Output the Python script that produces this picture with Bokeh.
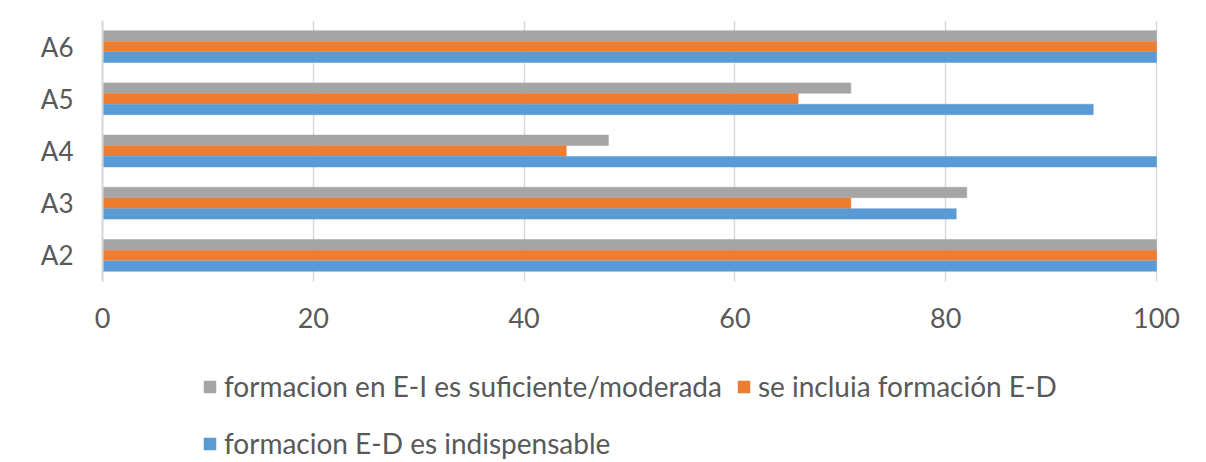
from bokeh.plotting import figure
from bokeh.models import Legend, LegendItem, Range1d, FixedTicker, Grid, ColumnDataSource
from bokeh.transform import dodge
from bokeh.embed import file_html
from bokeh.resources import INLINE

categories = ["A2", "A3", "A4", "A5", "A6"]
suficiente = [100, 82, 48, 71, 100]
incluia = [100, 71, 44, 66, 100]
indispensable = [100, 81, 100, 94, 100]
x_ticks = [0, 20, 40, 60, 80, 100]

labels = ["formacion en E-I es suficiente/moderada",
          "se incluia formación E-D",
          "formacion E-D es indispensable"]
colors = ["#a5a5a5", "#ed7d31", "#5b9bd5"]

FONT = "Lato"
TXT = "#595959"
GRID = "#d9d9d9"

# layout (pixels)
FRAME_LEFT, FRAME_W, FRAME_H, TOP = 10, 1190, 440, 20
PLOT_LEFT, PLOT_W = 102, 1054          # pixel span of 0..100
PX_PER_CAT = 52.2

px_per_unit = PLOT_W / 100.0
x_start = -(PLOT_LEFT - FRAME_LEFT) / px_per_unit
x_end = x_start + FRAME_W / px_per_unit

ypos = list(range(len(categories)))
y_top = len(categories) - 0.5
y_bottom = y_top - FRAME_H / PX_PER_CAT

src = ColumnDataSource(dict(y=ypos, s=suficiente, i=incluia, d=indispensable))

p = figure(output_backend="svg", toolbar_location=None,
           x_range=Range1d(x_start, x_end), y_range=Range1d(y_bottom, y_top),
           frame_width=FRAME_W, frame_height=FRAME_H,
           min_border_left=FRAME_LEFT, min_border_right=6, min_border_top=TOP, min_border_bottom=0)
p.outline_line_color = None
p.background_fill_color = "white"
p.border_fill_color = "white"

# grid lines limited to the bar area
if "cross_bounds" in Grid.properties():
    p.xgrid.cross_bounds = (-0.5, y_top)
    p.xgrid.ticker = FixedTicker(ticks=x_ticks)
    p.xgrid.grid_line_color = GRID
    p.xgrid.grid_line_width = 1.5
else:
    p.xgrid.grid_line_color = None
    p.segment(x0=x_ticks, x1=x_ticks, y0=[-0.5] * len(x_ticks), y1=[y_top] * len(x_ticks),
              line_color=GRID, line_width=1.5)
p.ygrid.grid_line_color = None

r1 = p.hbar(y=dodge("y", 0.205), right="s", left=0, height=0.2,
            source=src, fill_color=colors[0], line_color=colors[0], line_width=0.5)
r2 = p.hbar(y=dodge("y", 0.0), right="i", left=0, height=0.2,
            source=src, fill_color=colors[1], line_color=colors[1], line_width=0.5)
r3 = p.hbar(y=dodge("y", -0.205), right="d", left=0, height=0.2,
            source=src, fill_color=colors[2], line_color=colors[2], line_width=0.5)

p.xaxis.ticker = FixedTicker(ticks=x_ticks)
p.xaxis.fixed_location = -0.5
p.xaxis.axis_line_color = None
p.xaxis.major_tick_line_color = None
p.xaxis.minor_tick_line_color = None
p.xaxis.major_label_text_font = FONT
p.xaxis.major_label_text_font_size = "27px"
p.xaxis.major_label_text_color = TXT
p.xaxis.major_label_standoff = 20

p.yaxis.ticker = FixedTicker(ticks=ypos)
p.yaxis.major_label_overrides = {i: c for i, c in zip(ypos, categories)}
p.yaxis.fixed_location = 0
p.yaxis.bounds = (-0.5, y_top)
p.yaxis.axis_line_color = GRID
p.yaxis.axis_line_width = 2
p.yaxis.major_tick_line_color = None
p.yaxis.minor_tick_line_color = None
p.yaxis.major_label_text_font = FONT
p.yaxis.major_label_text_font_size = "26px"
p.yaxis.major_label_text_color = TXT
p.yaxis.major_label_standoff = 23

def mk_legend(items, loc):
    return Legend(items=items, location=loc, orientation="horizontal",
                  border_line_color=None, background_fill_alpha=0,
                  padding=0, margin=0, spacing=14, label_standoff=7,
                  glyph_width=15, glyph_height=15, label_height=34,
                  label_text_font=FONT, label_text_font_size="28px",
                  label_text_color=TXT)

legend_x = PLOT_LEFT - FRAME_LEFT + 100
lg1 = mk_legend([LegendItem(label=labels[0], renderers=[r1]),
                 LegendItem(label=labels[1], renderers=[r2])], (legend_x, 57))
lg2 = mk_legend([LegendItem(label=labels[2], renderers=[r3])], (legend_x, 0))
p.add_layout(lg1, "center")
p.add_layout(lg2, "center")

open("out.html", "w").write(file_html(p, INLINE))
